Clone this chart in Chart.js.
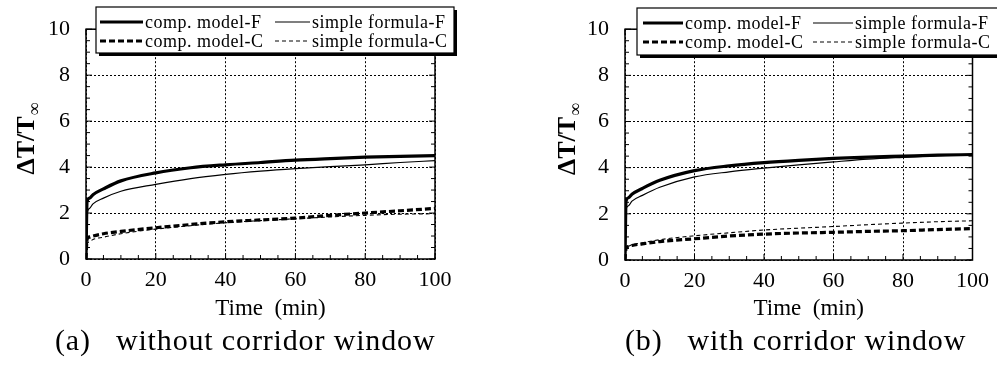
<!DOCTYPE html>
<html>
<head>
<meta charset="utf-8">
<script src="https://cdn.jsdelivr.net/npm/chart.js@4/dist/chart.umd.min.js"></script>
<style>
  html, body { margin: 0; padding: 0; background: #fff; }
  #wrap { position: relative; width: 997px; height: 367px; overflow: hidden; }
  .panel { position: absolute; top: 0; height: 367px; }
  .caption {
    position: absolute; top: 323px; font-family: "Liberation Serif", serif;
    font-size: 30px; letter-spacing: 0.85px; white-space: pre; color: #000;
  }
</style>
</head>
<body>
<div id="wrap">
  <div class="panel" style="left:0;width:498px"><canvas id="chartA"></canvas></div>
  <div class="panel" style="left:500px;width:497px"><canvas id="chartB"></canvas></div>
  <div class="caption" style="left:55px">(a)   without corridor window</div>
  <div class="caption" style="left:625px">(b)   with corridor window</div>
</div>
<script>
// time axis (min)
const timeMin = [0, 0.3, 1, 2, 5, 10, 20, 30, 40, 50, 60, 70, 80, 90, 100];

// (a) without corridor window
const aCompF   = [0, 2.5, 2.65, 2.8, 3.05, 3.4, 3.75, 3.97, 4.1, 4.2, 4.3, 4.37, 4.43, 4.47, 4.5];
const aSimpleF = [0, 1.95, 2.2, 2.4, 2.65, 2.95, 3.25, 3.5, 3.68, 3.82, 3.93, 4.02, 4.1, 4.2, 4.28];
const aCompC   = [0, 0.85, 0.95, 1.0, 1.1, 1.2, 1.36, 1.5, 1.62, 1.7, 1.78, 1.9, 2.0, 2.1, 2.2];
const aSimpleC = [0, 0.65, 0.75, 0.85, 0.95, 1.1, 1.3, 1.45, 1.58, 1.67, 1.75, 1.83, 1.9, 1.95, 1.97];

// (b) with corridor window
const bCompF   = [0, 2.55, 2.7, 2.85, 3.1, 3.45, 3.87, 4.08, 4.22, 4.32, 4.4, 4.46, 4.5, 4.54, 4.57];
const bSimpleF = [0, 2.2, 2.35, 2.55, 2.8, 3.15, 3.6, 3.82, 3.98, 4.12, 4.25, 4.37, 4.45, 4.52, 4.57];
const bCompC   = [0, 0.5, 0.58, 0.63, 0.7, 0.8, 0.92, 1.04, 1.12, 1.17, 1.2, 1.24, 1.27, 1.32, 1.36];
const bSimpleC = [0, 0.5, 0.6, 0.66, 0.75, 0.88, 1.05, 1.18, 1.3, 1.38, 1.45, 1.53, 1.6, 1.66, 1.7];

const seriesNames = ['comp. model-F', 'simple formula-F', 'comp. model-C', 'simple formula-C'];
const xTicks = [0, 20, 40, 60, 80, 100];
const yTicks = [0, 2, 4, 6, 8, 10];
const xTitle = 'Time  (min)';

const SERIF = '"Liberation Serif", "DejaVu Serif", serif';

// line styles per series: width and dash
const styles = [
  { width: 3.2, dash: [] },
  { width: 1.2, dash: [] },
  { width: 3.2, dash: [6, 3] },
  { width: 1.1, dash: [4, 3] }
];

function pts(values) {
  return values.map((v, i) => ({ x: timeMin[i], y: v }));
}

// frame, minor ticks, axis titles, legend box
const decorPlugin = {
  id: 'decor',
  afterDraw(chart, args, opts) {
    const ctx = chart.ctx;
    const a = chart.chartArea;
    const xs = chart.scales.x, ys = chart.scales.y;
    ctx.save();
    ctx.strokeStyle = '#000';
    ctx.setLineDash([]);
    // minor ticks
    ctx.lineWidth = 1;
    ctx.beginPath();
    for (let v = 0; v <= 100; v += 5) {
      const px = xs.getPixelForValue(v);
      const len = v % 20 === 0 ? 6 : 4;
      ctx.moveTo(px, a.bottom); ctx.lineTo(px, a.bottom - len);
      ctx.moveTo(px, a.top); ctx.lineTo(px, a.top + len);
    }
    for (let v = 0; v <= 10; v += 0.5) {
      const py = ys.getPixelForValue(v);
      const len = v % 2 === 0 ? 6 : 4;
      ctx.moveTo(a.left, py); ctx.lineTo(a.left + len, py);
      ctx.moveTo(a.right, py); ctx.lineTo(a.right - len, py);
    }
    ctx.stroke();
    // frame
    ctx.lineWidth = 1.5;
    ctx.strokeRect(a.left, a.top, a.right - a.left, a.bottom - a.top);

    // x axis title
    ctx.fillStyle = '#000';
    ctx.font = '23px ' + SERIF;
    ctx.textAlign = 'center';
    ctx.textBaseline = 'middle';
    ctx.fillText(xTitle, (a.left + a.right) / 2 + 10, 309);

    // y axis title: ΔT/T with subscript ∞
    ctx.save();
    ctx.translate(opts.yTitleX, (a.top + a.bottom) / 2 - 5);
    ctx.rotate(-Math.PI / 2);
    ctx.font = 'bold 26px ' + SERIF;
    const main = 'ΔT/T';
    const wMain = ctx.measureText(main).width;
    ctx.font = '18px ' + SERIF;
    const wSub = ctx.measureText('∞').width;
    const x0 = -(wMain + wSub) / 2;
    ctx.font = 'bold 26px ' + SERIF;
    ctx.textAlign = 'left';
    ctx.fillText(main, x0, 0);
    ctx.font = '18px ' + SERIF;
    ctx.fillText('∞', x0 + wMain + 1, 8);
    ctx.restore();

    // legend box
    const L = opts.legend;
    ctx.fillStyle = '#000';
    ctx.fillRect(L.x + 3, L.y + 3, L.w, L.h);
    ctx.fillStyle = '#fff';
    ctx.fillRect(L.x, L.y, L.w, L.h);
    ctx.lineWidth = 1.2;
    ctx.strokeStyle = '#000';
    ctx.strokeRect(L.x, L.y, L.w, L.h);
    ctx.font = '18px ' + SERIF;
    ctx.letterSpacing = '0.5px';
    ctx.textBaseline = 'middle';
    ctx.textAlign = 'left';
    ctx.fillStyle = '#000';
    const cols = [L.col1, L.col2];
    const samples = [L.sample1, L.sample2];
    const rows = [L.y + 15, L.y + 34];
    const order = [[0, 1], [2, 3]];
    for (let r = 0; r < 2; r++) {
      for (let c = 0; c < 2; c++) {
        const idx = order[r][c];
        const s = styles[idx];
        const cx = cols[c];
        ctx.beginPath();
        ctx.lineWidth = s.width * 0.9;
        ctx.setLineDash(s.dash);
        ctx.moveTo(cx, rows[r]);
        ctx.lineTo(cx + samples[c], rows[r]);
        ctx.stroke();
        ctx.setLineDash([]);
        ctx.fillText(seriesNames[idx], cx + samples[c] + 2, rows[r] + 1);
      }
    }
    ctx.restore();
  }
};

function makeChart(id, data, pad, yWidth, legend, yTitleX) {
  const sets = data.map((vals, i) => ({
    label: seriesNames[i],
    data: pts(vals),
    borderColor: '#000',
    borderWidth: styles[i].width,
    borderDash: styles[i].dash,
    pointRadius: 0,
    showLine: true,
    fill: false,
    tension: 0.35,
    cubicInterpolationMode: 'monotone'
  }));
  return new Chart(document.getElementById(id), {
    type: 'scatter',
    data: { datasets: sets },
    plugins: [decorPlugin],
    options: {
      responsive: true,
      maintainAspectRatio: false,
      animation: false,
      layout: { padding: pad },
      plugins: {
        legend: { display: false },
        tooltip: { enabled: false },
        decor: { legend: legend, yTitleX: yTitleX }
      },
      scales: {
        x: {
          type: 'linear', min: 0, max: 100,
          afterBuildTicks: s => { s.ticks = xTicks.map(v => ({ value: v })); },
          afterFit: s => { s.height = pad.xHeight; },
          grid: { color: '#000', lineWidth: 1, drawTicks: false },
          border: { display: false, dash: [2, 2] },
          ticks: { color: '#000', padding: 8, font: { family: SERIF, size: 22 }, maxRotation: 0 }
        },
        y: {
          type: 'linear', min: 0, max: 10,
          afterBuildTicks: s => { s.ticks = yTicks.map(v => ({ value: v })); },
          afterFit: s => { s.width = yWidth; },
          grid: { color: '#000', lineWidth: 1, drawTicks: false },
          border: { display: false, dash: [2, 2] },
          ticks: { color: '#000', padding: 16, font: { family: SERIF, size: 22 } }
        }
      }
    }
  });
}

makeChart('chartA', [aCompF, aSimpleF, aCompC, aSimpleC],
  { left: 0, right: 63, top: 22, bottom: 45, xHeight: 63 }, 86,
  { x: 96, y: 7, w: 358, h: 46, col1: 100, col2: 275, sample1: 43, sample2: 35 }, 27);

makeChart('chartB', [bCompF, bSimpleF, bCompC, bSimpleC],
  { left: 41, right: 23, top: 23, bottom: 45, xHeight: 62 }, 84,
  { x: 137, y: 8, w: 362, h: 47, col1: 143, col2: 313, sample1: 40, sample2: 40 }, 68);
</script>
</body>
</html>
